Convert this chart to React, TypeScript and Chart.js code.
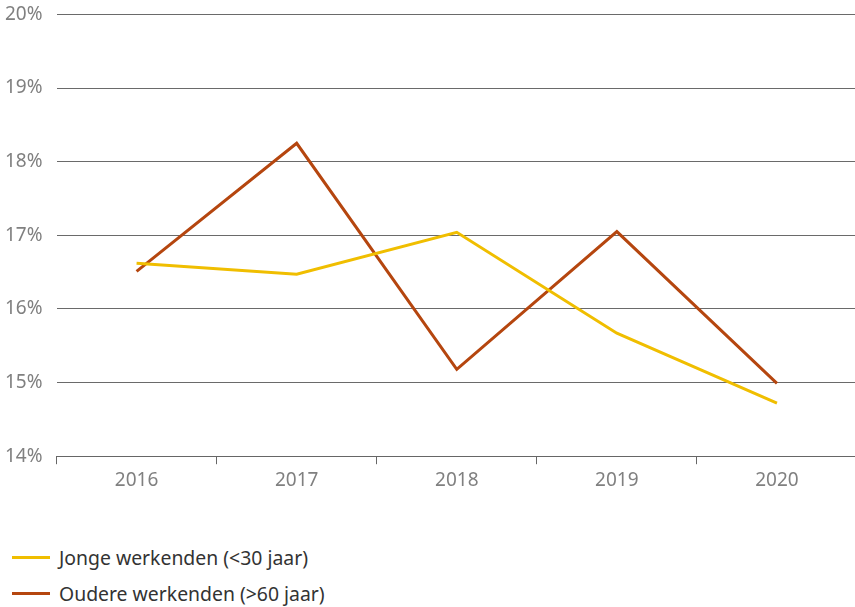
import React, { useEffect, useRef } from "react";
import { Chart, registerables } from "chart.js";

Chart.register(...registerables);

const years = ["2016", "2017", "2018", "2019", "2020"];
const jongeLabel = "Jonge werkenden (<30 jaar)";
const oudereLabel = "Oudere werkenden (>60 jaar)";
const jonge = [16.62, 16.47, 17.04, 15.67, 14.72];
const oudere = [16.51, 18.25, 15.18, 17.05, 14.99];
const yMin = 14;
const yMax = 20;

const YELLOW = "#F0BE00";
const BROWN = "#B5460F";
const FONT = "'Noto Sans', sans-serif";

export default function App() {
  const ref = useRef<HTMLCanvasElement | null>(null);
  useEffect(() => {
    if (!ref.current) return;
    const chart = new Chart(ref.current, {
      type: "line",
      data: {
        labels: years,
        datasets: [
          { label: jongeLabel, data: jonge, borderColor: YELLOW, backgroundColor: YELLOW, borderWidth: 3, pointRadius: 0, tension: 0 },
          { label: oudereLabel, data: oudere, borderColor: BROWN, backgroundColor: BROWN, borderWidth: 3, pointRadius: 0, tension: 0 },
        ],
      },
      options: {
        responsive: false,
        animation: false,
        layout: { padding: { top: 0, right: 0, left: 0, bottom: 0 } },
        plugins: { legend: { display: false }, tooltip: { enabled: false } },
        scales: {
          x: {
            offset: true,
            grid: { display: true, drawOnChartArea: false, drawTicks: true, tickLength: 8, color: "#666", offset: true },
            border: { display: true, color: "#666", width: 1 },
            ticks: { color: "#808080", font: { family: FONT, size: 19 }, padding: 5 },
          },
          y: {
            min: yMin,
            max: yMax,
            grid: { color: "#6a6a6a", drawTicks: false, lineWidth: 1 },
            border: { display: false },
            ticks: {
              stepSize: 1,
              color: "#808080",
              font: { family: FONT, size: 19 },
              padding: 14,
              callback: (v: any) => `${v}%`,
            },
          },
        },
      },
    });
    return () => chart.destroy();
  }, []);

  const legendItems = [
    { label: jongeLabel, color: YELLOW },
    { label: oudereLabel, color: BROWN },
  ];

  return (
    <div style={{ position: "absolute", left: 0, top: 0, width: 855, height: 607, background: "#fff", overflow: "hidden" }}>
      <canvas ref={ref} width={866} height={508} style={{ display: "block", position: "absolute", left: -9, top: -11 }} />
      <div style={{ position: "absolute", left: 12, top: 539, fontFamily: FONT, fontSize: 19.4, color: "#333" }}>
        {legendItems.map((it) => (
          <div key={it.label} style={{ display: "flex", alignItems: "center", height: 36 }}>
            <span style={{ display: "inline-block", width: 38, height: 3, background: it.color, marginRight: 9 }} />
            <span>{it.label}</span>
          </div>
        ))}
      </div>
    </div>
  );
}
